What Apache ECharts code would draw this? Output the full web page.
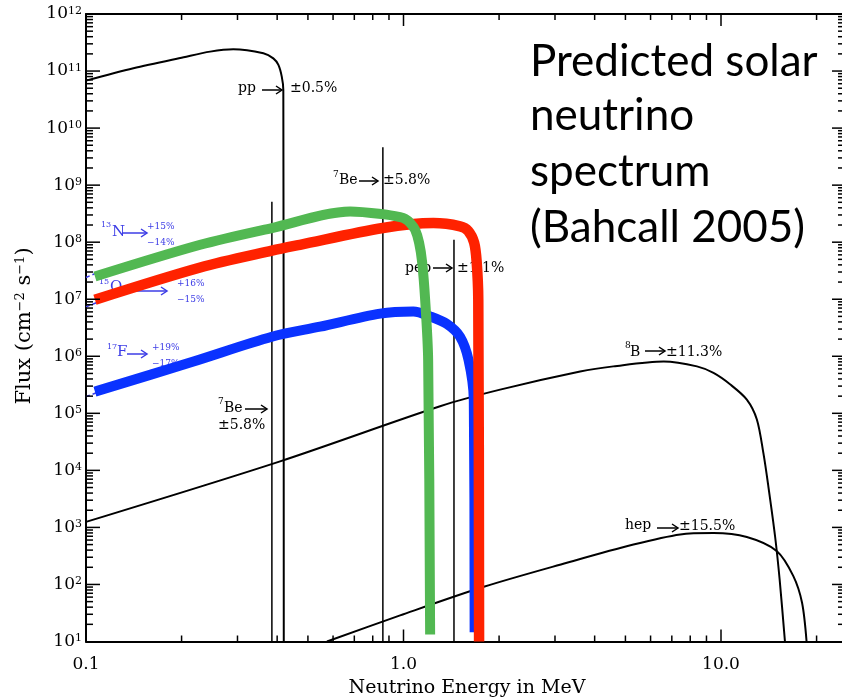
<!DOCTYPE html>
<html><head><meta charset="utf-8">
<script src="https://cdn.jsdelivr.net/npm/echarts@6/dist/echarts.min.js"></script>
<style>html,body{margin:0;padding:0;background:#fff}#c{width:842px;height:698px}</style>
</head><body><div id="c"></div>
<script>
// ---------------- data (energy MeV, flux) ----------------
const xMin = 0.1, xMax = 24.4, yMin = 10, yMax = 1e12;
const xTickLabels = ['0.1', '1.0', '10.0'];
const yTickExponents = [1,2,3,4,5,6,7,8,9,10,11,12];
const minorMultipliers = [2,3,4,5,6,7,8,9];

const ppSpectrum = [[0.1,6.8e10],[0.141,1.12e11],[0.203,1.75e11],[0.246,2.19e11],[0.291,2.41e11],[0.362,2.05e11],[0.389,1.67e11],[0.4036,1.28e11],[0.4136,7.98e10],[0.4183,4.67e10],[0.4197,10]];
const be7LineLow = [[0.385,10],[0.385,5.1e8]];
const be7LineHigh = [[0.861,10],[0.861,4.6e9]];
const pepLine = [[1.442,10],[1.442,1.1e8]];
const b8Spectrum = [[0.1,1.25e3],[0.4086,1.44e4],[1.304,1.33e5],[2.015,2.6e5],[3.6,5.4e5],[4.58,6.65e5],[6.6,8.1e5],[8.4,6.65e5],[9.47,5.1e5],[10.7,3.2e5],[12.06,1.74e5],[12.97,7.8e4],[13.6,2.0e4],[14.1,5.2e3],[14.8,700],[15.3,122],[15.9,10]];
const hepSpectrum = [[0.574,10],[0.976,28.7],[1.79,91],[3.27,240],[5.30,501],[7.44,752],[9.47,795],[12.06,677],[15.0,383],[16.9,140],[18.0,47.7],[18.6,10]];
const n13Spectrum = [[0.1067,2.5e7],[0.229,9.0e7],[0.385,1.77e8],[0.679,3.45e8],[0.861,3.1e8],[0.976,2.75e8],[1.0116,2.57e8],[1.049,2.19e8],[1.088,1.65e8],[1.1196,9.8e7],[1.1445,4.5e7],[1.17,9.8e6],[1.1957,8.7e5],[1.213,13.3]];
const o15Spectrum = [[0.1067,9.8e6],[0.229,3.6e7],[0.385,7.1e7],[0.472,9.0e7],[0.861,1.77e8],[1.242,2.16e8],[1.507,1.9e8],[1.598,1.58e8],[1.669,9.8e7],[1.70,4.5e7],[1.72,9.8e6],[1.73,10]];
const f17Spectrum = [[0.1067,2.4e5],[0.218,8.1e5],[0.385,2.2e6],[0.546,3.3e6],[0.844,5.6e6],[1.074,6.1e6],[1.213,5.0e6],[1.369,3.7e6],[1.507,2.2e6],[1.602,8.7e5],[1.665,1.74e5],[1.675,14.5]];
// thin original CNO curves (only their starts peek out from under the thick bands)
const n13Thin = [[0.1,2.4e7],[0.108,2.9e7]];
const o15Thin = [[0.1,7.4e6],[0.108,8.7e6]];
const f17Thin = [[0.1,1.96e5],[0.108,2.3e5]];

// ---------------- helpers ----------------
const SERIF = "'DejaVu Serif', serif";
const BLUE_TXT = '#3c3ce6';

function decadeExp(v){ const l = Math.log10(v); const e = Math.round(l); return Math.abs(l - e) < 1e-6 ? e : null; }

// tick items: [x, y, side, length]  side: 0 up from bottom, 1 down from top, 2 right from left, 3 left from right
const tickItems = [];
for (let e = -1; e <= 1; e++) {
  for (const m of minorMultipliers) {
    const v = m * Math.pow(10, e);
    if (v < xMax) { tickItems.push([v, yMin, 0, 6]); tickItems.push([v, yMax, 1, 6]); }
  }
  if (e >= 0) { const v = Math.pow(10, e); tickItems.push([v, yMin, 0, 12]); tickItems.push([v, yMax, 1, 12]); }
}
for (const e of yTickExponents) {
  const v = Math.pow(10, e);
  if (e > 1 && e < 12) { tickItems.push([xMin, v, 2, 14]); tickItems.push([xMax, v, 3, 12]); }
  if (e < 12) for (const m of minorMultipliers) { const w = m * v; tickItems.push([xMin, w, 2, 7]); tickItems.push([xMax, w, 3, 6]); }
}

function lineSeries(data, color, width, z, smooth, type){
  return {type:'line', data, symbol:'none', showSymbol:false, z, silent:true, animation:false,
    smooth: smooth || false,
    lineStyle:{color, width, cap:'butt', join:'round', type: type || 'solid'}};
}

function T(x, y, text, size, color, extra){
  return Object.assign({type:'text', x, y, z:1, silent:true,
    style:{text, fontFamily:SERIF, fontSize:size, fill:color||'#000', align:'left', verticalAlign:'middle', textAlign:'left', textVerticalAlign:'middle'}}, extra||{});
}
function A(x1, x2, y, color){
  const c = color || '#000';
  return [
    {type:'line', z:1, silent:true, shape:{x1, y1:y, x2, y2:y}, style:{stroke:c, lineWidth:1.5}},
    {type:'polyline', z:1, silent:true, shape:{points:[[x2-6,y-4],[x2,y],[x2-6,y+4]]}, style:{stroke:c, fill:'none', lineWidth:1.5}}
  ];
}
function title(y, text){
  return {type:'text', x:530, y, z:10, silent:true, style:{text, fontFamily:'Lato', fontSize:44, fill:'#000', align:'left', verticalAlign:'middle', textAlign:'left', textVerticalAlign:'middle'}};
}

const graphics = [].concat(
  // pp
  [T(238, 88, 'pp', 14), T(290, 88, '±0.5%', 14)], A(262, 282, 90),
  // 7Be upper
  [T(333, 175, '7', 9), T(339, 180, 'Be', 14), T(383, 180, '±5.8%', 14)], A(359, 378, 181),
  // pep
  [T(405, 268, 'pep', 14), T(457, 268, '±1.1%', 14)], A(433, 452, 268),
  // 7Be lower
  [T(218, 402, '7', 9), T(224, 408, 'Be', 14), T(218, 425, '±5.8%', 14)], A(245, 267, 409),
  // 8B
  [T(625, 346, '8', 9), T(630, 352, 'B', 14), T(666, 352, '±11.3%', 14)], A(645, 665, 351),
  // hep
  [T(625, 525, 'hep', 14), T(679, 526, '±15.5%', 14)], A(657, 678, 528),
  // 13N
  [T(101, 225, '13', 8, BLUE_TXT), T(112, 232, 'N', 15, BLUE_TXT), T(147, 226.5, '+15%', 9, BLUE_TXT), T(147, 243, '−14%', 9, BLUE_TXT)], A(122, 147, 233, BLUE_TXT),
  // 15O
  [T(99, 282, '15', 8, BLUE_TXT), T(110, 287, 'O', 15, BLUE_TXT), T(177, 283.5, '+16%', 9, BLUE_TXT), T(177, 299.5, '−15%', 9, BLUE_TXT)], A(124, 167, 291, BLUE_TXT),
  // 17F
  [T(107, 347, '17', 8, BLUE_TXT), T(117, 352, 'F', 15, BLUE_TXT), T(152, 347.5, '+19%', 9, BLUE_TXT), T(152, 363.5, '−17%', 9, BLUE_TXT)], A(127, 147, 354, BLUE_TXT),
  // title
  [title(62, 'Predicted solar'), title(116, 'neutrino'), title(172, 'spectrum'), title(228, '(Bahcall 2005)')],
  // axis titles
  [
    {type:'text', x:467, y:688, z:10, silent:true, style:{text:'Neutrino Energy in MeV', fontFamily:SERIF, fontSize:19, fill:'#000', align:'center', verticalAlign:'middle', textAlign:'center', textVerticalAlign:'middle'}},
    {type:'text', x:25, y:326, z:10, silent:true, rotation:Math.PI/2, style:{
      text:'{n|Flux (cm}{s|−2}{n| s}{s|−1}{n|)}', fill:'#000', align:'center', verticalAlign:'middle', textAlign:'center', textVerticalAlign:'middle',
      rich:{n:{fontFamily:SERIF, fontSize:21, fill:'#000', color:'#000'}, s:{fontFamily:SERIF, fontSize:13, verticalAlign:'top', fill:'#000', color:'#000'}}}}
  ]
);

const axisLineStyle = {show:true, onZero:false, lineStyle:{color:'#000', width:2}};

const option = {
  animation:false,
  backgroundColor:'#fff',
  grid:{left:86, top:14, width:758, height:627.5, containLabel:false, outerBoundsMode:'none'},
  xAxis:[
    {type:'log', logBase:10, min:xMin, max:xMax, interval:1, position:'bottom',
     axisLine:axisLineStyle, axisTick:{show:false}, splitLine:{show:false}, minorTick:{show:false},
     axisLabel:{margin:15, color:'#000', fontFamily:SERIF, fontSize:17,
       formatter:(v)=>{ const e = decadeExp(v); return e === null ? '' : (xTickLabels[e+1] || ''); }}},
    {type:'log', logBase:10, min:xMin, max:xMax, interval:1, position:'top',
     axisLine:axisLineStyle, axisTick:{show:false}, splitLine:{show:false}, axisLabel:{show:false}}
  ],
  yAxis:[
    {type:'log', logBase:10, min:yMin, max:yMax, interval:1, position:'left',
     axisLine:axisLineStyle, axisTick:{show:false}, splitLine:{show:false}, minorTick:{show:false},
     axisLabel:{margin:4, formatter:(v)=>{ const e = decadeExp(v); return e === null ? '' : '{b|10}{s|' + e + '}'; },
       rich:{b:{fontFamily:SERIF, fontSize:17, color:'#000'}, s:{fontFamily:SERIF, fontSize:11, color:'#000', verticalAlign:'top'}}}},
    {type:'log', logBase:10, min:yMin, max:yMax, interval:1, position:'right',
     axisLine:axisLineStyle, axisTick:{show:false}, splitLine:{show:false}, axisLabel:{show:false}}
  ],
  graphic:{elements:graphics},
  series:[
    lineSeries(ppSpectrum, '#000', 2, 2, 0.3),
    lineSeries(be7LineLow, '#000', 1.5, 2),
    lineSeries(be7LineHigh, '#000', 1.5, 2),
    lineSeries(pepLine, '#000', 1.5, 2),
    lineSeries(b8Spectrum, '#000', 2, 2, 0.3),
    lineSeries(hepSpectrum, '#000', 2, 2, 0.3),
    lineSeries(n13Thin, BLUE_TXT, 1.5, 2, false, [4, 3]),
    lineSeries(o15Thin, BLUE_TXT, 1.5, 2, false, [4, 3]),
    lineSeries(f17Thin, BLUE_TXT, 1.5, 2, false, [4, 3]),
    lineSeries(f17Spectrum, '#0a32ff', 10, 3, 0.3),
    lineSeries(o15Spectrum, '#ff2200', 10.5, 4, 0.3),
    lineSeries(n13Spectrum, '#52b852', 10, 5, 0.3),
    {type:'custom', coordinateSystem:'cartesian2d', silent:true, clip:false, z:6, animation:false,
     dimensions:['x','y','side','len'], encode:{x:0, y:1},
     data:tickItems,
     renderItem:(params, api)=>{
       const p = api.coord([api.value(0), api.value(1)]);
       const side = api.value(2), len = api.value(3);
       let x2 = p[0], y2 = p[1];
       if (side === 0) y2 -= len; else if (side === 1) y2 += len; else if (side === 2) x2 += len; else x2 -= len;
       return {type:'line', shape:{x1:p[0], y1:p[1], x2, y2}, style:{stroke:'#000', lineWidth:1.5}};
     }}
  ]
};

const chart = echarts.init(document.getElementById('c'));
chart.setOption(option);
</script>
</body></html>
